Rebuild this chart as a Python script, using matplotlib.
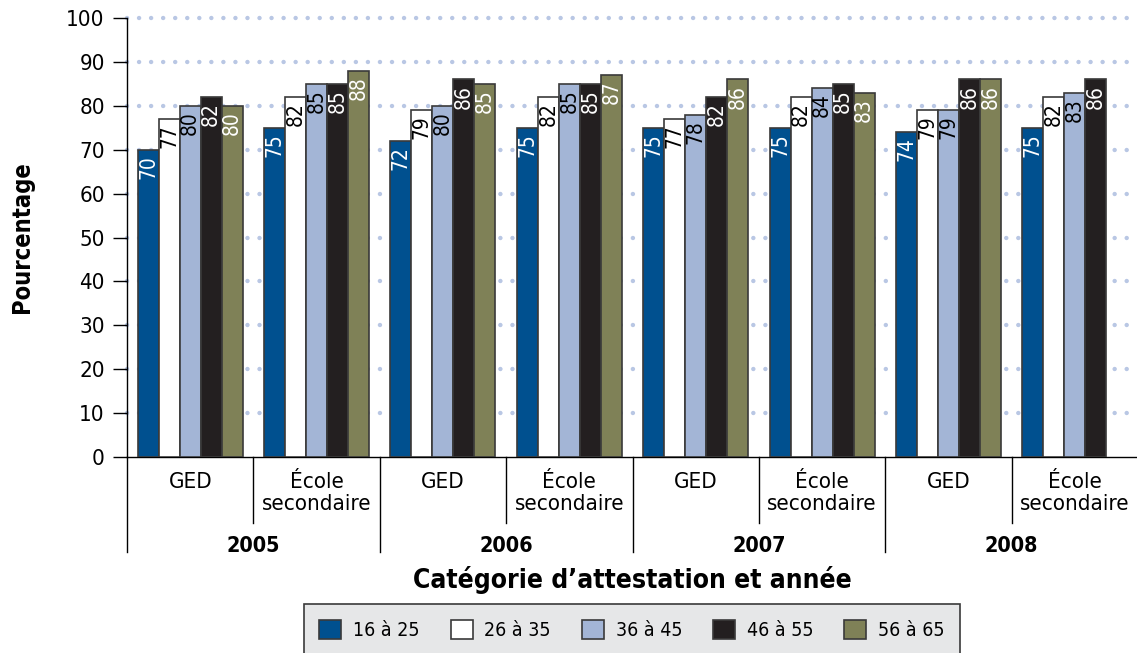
import numpy as np
import matplotlib
matplotlib.use("Agg")
import matplotlib.pyplot as plt
from matplotlib.patches import Patch
from matplotlib.transforms import blended_transform_factory

plt.rcParams['font.family'] = ['DejaVu Sans']
plt.rcParams['font.stretch'] = 'condensed'

years = ["2005", "2006", "2007", "2008"]
categories = ["GED", "École\nsecondaire"]
series_names = ["16 à 25", "26 à 35", "36 à 45", "46 à 55", "56 à 65"]

# one value per group: GED/École for 2005..2008
age_16_25 = [70, 75, 72, 75, 75, 75, 74, 75]
age_26_35 = [77, 82, 79, 82, 77, 82, 79, 82]
age_36_45 = [80, 85, 80, 85, 78, 84, 79, 83]
age_46_55 = [82, 85, 86, 85, 82, 85, 86, 86]
age_56_65 = [80, 88, 85, 87, 86, 83, 86, None]

series = [age_16_25, age_26_35, age_36_45, age_46_55, age_56_65]
colors = ["#00508f", "#ffffff", "#a3b5d6", "#231f20", "#7f8157"]
label_colors = ["white", "black", "black", "white", "white"]

fig = plt.figure(figsize=(11.37, 6.53), dpi=100)
ax = fig.add_axes([127/1137, 196/653, 1011/1137, 439/653])

n_groups = len(age_16_25)
x = np.arange(n_groups)
width = 0.166
offsets = (np.arange(5) - 2) * width

for s, vals in enumerate(series):
    for i, v in enumerate(vals):
        if v is None:
            continue
        xs = x[i] + offsets[s]
        ax.bar(xs, v, width, color=colors[s], edgecolor="#3a3a3a", linewidth=1.2, zorder=3)
        ax.text(xs, v - 1.2, str(v), rotation=90, ha="center", va="top",
                fontsize=15, color=label_colors[s], zorder=4)

ax.set_xlim(-0.5, n_groups - 0.5)
ax.set_ylim(0, 100)
ax.set_yticks(np.arange(0, 101, 10))
ax.tick_params(axis="y", labelsize=16, length=10, width=1, direction="out", pad=6)
ax.set_xticks([])
for sp in ["top", "right"]:
    ax.spines[sp].set_visible(False)
ax.spines["left"].set_linewidth(1)
ax.spines["bottom"].set_linewidth(1)

# dotted gridlines
for yv in range(10, 101, 10):
    ax.axhline(yv, color="#b9c7e4", linewidth=3.2, linestyle=(0, (0.01, 2.7)),
               dash_capstyle="round", zorder=1, clip_on=False)

# category labels and separators below the axis
tr = blended_transform_factory(ax.transData, ax.transAxes)
for i in range(n_groups):
    ax.text(x[i], -0.034, categories[i % 2], transform=tr, ha="center", va="top",
            fontsize=16, linespacing=1.15)
for j, yr in enumerate(years):
    ax.text(2 * j + 0.5, -0.203, yr, transform=tr, ha="center", va="center",
            fontsize=15.5, fontweight="bold")
for i in range(n_groups + 1):
    xb = i - 0.5
    y_end = -0.216 if i % 2 == 0 else -0.150
    ax.plot([xb, xb], [0, y_end], transform=tr, color="black", linewidth=1, clip_on=False)

ax.set_ylabel("Pourcentage", fontsize=17, fontweight="bold")
ax.yaxis.set_label_coords(-0.092, 0.5)
fig.text(632/1137, 1 - 580/653, "Catégorie d\u2019attestation et année", ha="center",
         va="center", fontsize=19, fontweight="bold")

handles = [Patch(facecolor=c, edgecolor="#3a3a3a", linewidth=1.2) for c in colors]
leg = fig.legend(handles, series_names, loc="upper center", ncol=5,
                 bbox_to_anchor=(632/1137, 1 - 604/653), fontsize=14, frameon=True,
                 fancybox=False, edgecolor="#3a3a3a", facecolor="#e6e7e8",
                 handlelength=1.13, handleheight=1.13, columnspacing=1.6,
                 handletextpad=0.6, borderpad=0.8, borderaxespad=0)
leg.get_frame().set_linewidth(1.2)
leg.get_frame().set_alpha(1)

fig.savefig("out.png", dpi=100)
